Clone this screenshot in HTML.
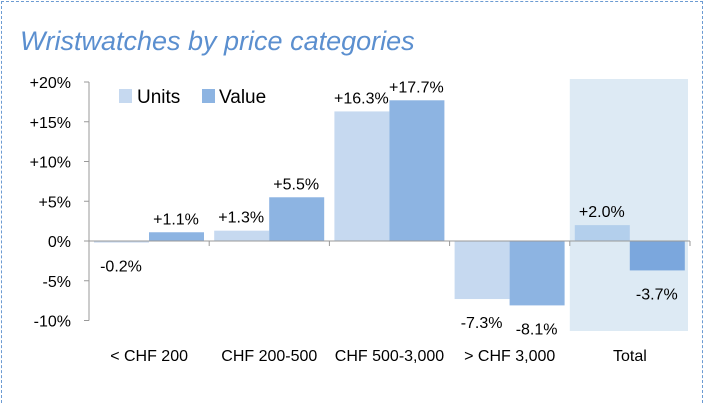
<!DOCTYPE html>
<html style="height:403px;overflow:hidden"><head><meta charset="utf-8"><style>
html,body{margin:0;background:#fff;width:714px;height:403px;overflow:hidden;font-family:"Liberation Sans",sans-serif}
#frame{position:absolute;left:1px;top:1px;width:702px;height:402px;border:1px dashed #6c9bd2;border-bottom:none;box-sizing:border-box}
</style></head><body>
<div id="frame"></div>
<svg width="714" height="403" style="position:absolute;left:0;top:0">
<text x="20" y="50" font-size="27" font-style="italic" fill="#5b8fcf">Wristwatches by price categories</text>
<g id="g"></g>
</svg>
<script>
const categories=["< CHF 200","CHF 200-500","CHF 500-3,000","> CHF 3,000","Total"];
const units=[-0.2,1.3,16.3,-7.3,2.0];
const value=[1.1,5.5,17.7,-8.1,-3.7];
const ticks=[20,15,10,5,0,-5,-10];
const NS="http://www.w3.org/2000/svg";
const g=document.getElementById('g');
const x0=89,cw=120.2,y0=241,k=7.95;
const Y=v=>y0-v*k;
function mk(t,a,p){const e=document.createElementNS(NS,t);for(const q in a)e.setAttribute(q,a[q]);(p||g).appendChild(e);return e;}
const bg=mk('rect',{x:x0+4*cw,y:79,width:cw-2,height:252,fill:'#ddeaf4'});


const ax=mk('line',{x1:x0,y1:Y(20),x2:x0,y2:Y(-10),stroke:'#999'});


ticks.forEach(t=>{
 mk('line',{x1:x0-5,y1:Y(t),x2:x0,y2:Y(t),stroke:'#999'});
 const tx=mk('text',{x:x0-18,y:Y(t)+6,'text-anchor':'end','font-size':16,fill:'#000'});
 tx.textContent=(t>0?'+':'')+t+'%';
 
 
});
const fmt=v=>(v>0?'+':'')+v.toFixed(1)+'%';
categories.forEach((c,i)=>{
 const cx=x0+i*cw;
 const tot=i===4;
 [[units[i],tot?'#b3cfec':'#c6d9f0',5],[value[i],tot?'#7ba7dd':'#8db4e2',60]].forEach(([v,col,off],j)=>{
  const r=mk('rect',{x:cx+off,y:Math.min(Y(v),y0),width:55,height:Math.max(Math.abs(v)*k,1),fill:col});
  
  
  const ly=v>=0?Y(v)-8:Y(v)+29;
  const t=mk('text',{x:cx+off+27,y:ly,'text-anchor':'middle','font-size':16,fill:'#000'});
  t.textContent=fmt(v);
  
  
 });
 const l=mk('text',{x:cx+cw/2,y:361,'text-anchor':'middle','font-size':16,fill:'#000'});
 l.textContent=c;
 
 
 mk('line',{x1:cx+cw,y1:y0,x2:cx+cw,y2:y0+5,stroke:'#999'});
});
const zl=mk('line',{x1:x0,y1:y0,x2:x0+5*cw,y2:y0,stroke:'#999'});


const le=mk('g',{});


mk('rect',{x:119,y:89,width:13,height:14,fill:'#c6d9f0'},le);
const t1=mk('text',{x:137,y:103,'font-size':19},le);t1.textContent='Units';
mk('rect',{x:202,y:89,width:13,height:14,fill:'#8db4e2'},le);
const t2=mk('text',{x:219,y:103,'font-size':19},le);t2.textContent='Value';
</script>
</body></html>
